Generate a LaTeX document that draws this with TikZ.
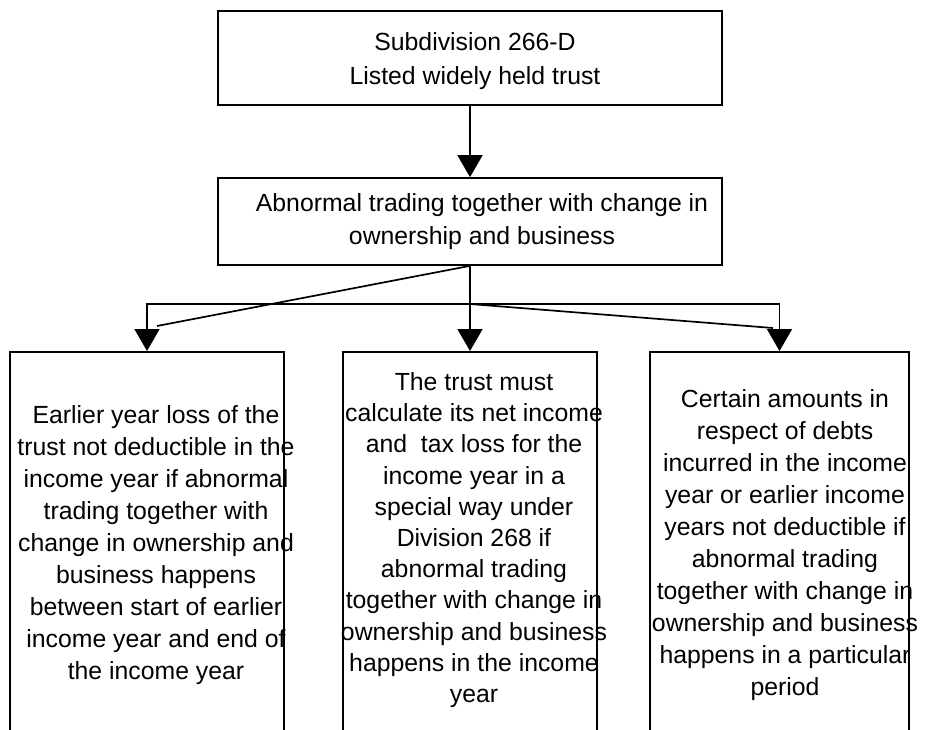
\documentclass[tikz,border=0pt]{standalone}
\usepackage{fontspec}
\setmainfont{Liberation Sans}
\usetikzlibrary{arrows.meta}
\begin{document}
\begin{tikzpicture}[x=0.5pt,y=-0.5pt,
    box/.style={draw, line width=0.85pt, inner sep=0pt},
    txt/.style={align=center, font=\fontsize{12.4}{16}\selectfont},
    link/.style={line width=0.85pt},
    arr/.style={line width=0.85pt, -{Triangle[length=11pt,width=12.5pt]}}]
      \useasboundingbox (0,0) rectangle (926,729);
      \clip (0,0) rectangle (926,729);
      \node[box, minimum width=252pt, minimum height=47pt] (trust) at (470,58) {};
      \node[box, minimum width=252pt, minimum height=43.5pt] (trading) at (470,221.5) {};
      \node[box, anchor=north, minimum width=137pt, minimum height=200pt] (loss) at (147,351) {};
      \node[box, anchor=north, minimum width=127pt, minimum height=200pt] (calc) at (470,351) {};
      \node[box, anchor=north, minimum width=129.5pt, minimum height=200pt] (debts) at (779.5,351) {};
      \node[txt, font=\fontsize{12.4}{16.7}\selectfont] (trusttext) at (475,61) {Subdivision 266-D\\Listed widely held trust};
      \node[txt, font=\fontsize{12.4}{16.5}\selectfont] (tradingtext) at (482,222) {Abnormal trading together with change in\\ownership and business};
      \node[txt] (losstext) at (156,545) {Earlier year loss of the\\trust not deductible in the\\income year if abnormal\\trading together with\\change in ownership and\\business happens\\between start of earlier\\income year and end of\\the income year};
      \node[txt, font=\fontsize{12.4}{15.6}\selectfont] (calctext) at (474,540) {The trust must\\calculate its net income\\and~ tax loss for the\\income year in a\\special way under\\Division 268 if\\abnormal trading\\together with change in\\ownership and business\\happens in the income\\year};
      \node[txt] (debtstext) at (785,545) {Certain amounts in\\respect of debts\\incurred in the income\\year or earlier income\\years not deductible if\\abnormal trading\\together with change in\\ownership and business\\happens in a particular\\period};
      \coordinate (J) at (470,304);
      \coordinate (LD) at (157,326);
      \coordinate (RD) at (773,328);
      \draw[arr] (trust) -- (trading);
      \draw[arr] (trading.south) -- (calc.north);
      \draw[arr] (J) -| (loss.north);
      \draw[arr] (J) -| (debts.north);
      \draw[link] (trading.south) -- (LD);
      \draw[link] (J) -- (RD);
    \end{tikzpicture}
\end{document}
